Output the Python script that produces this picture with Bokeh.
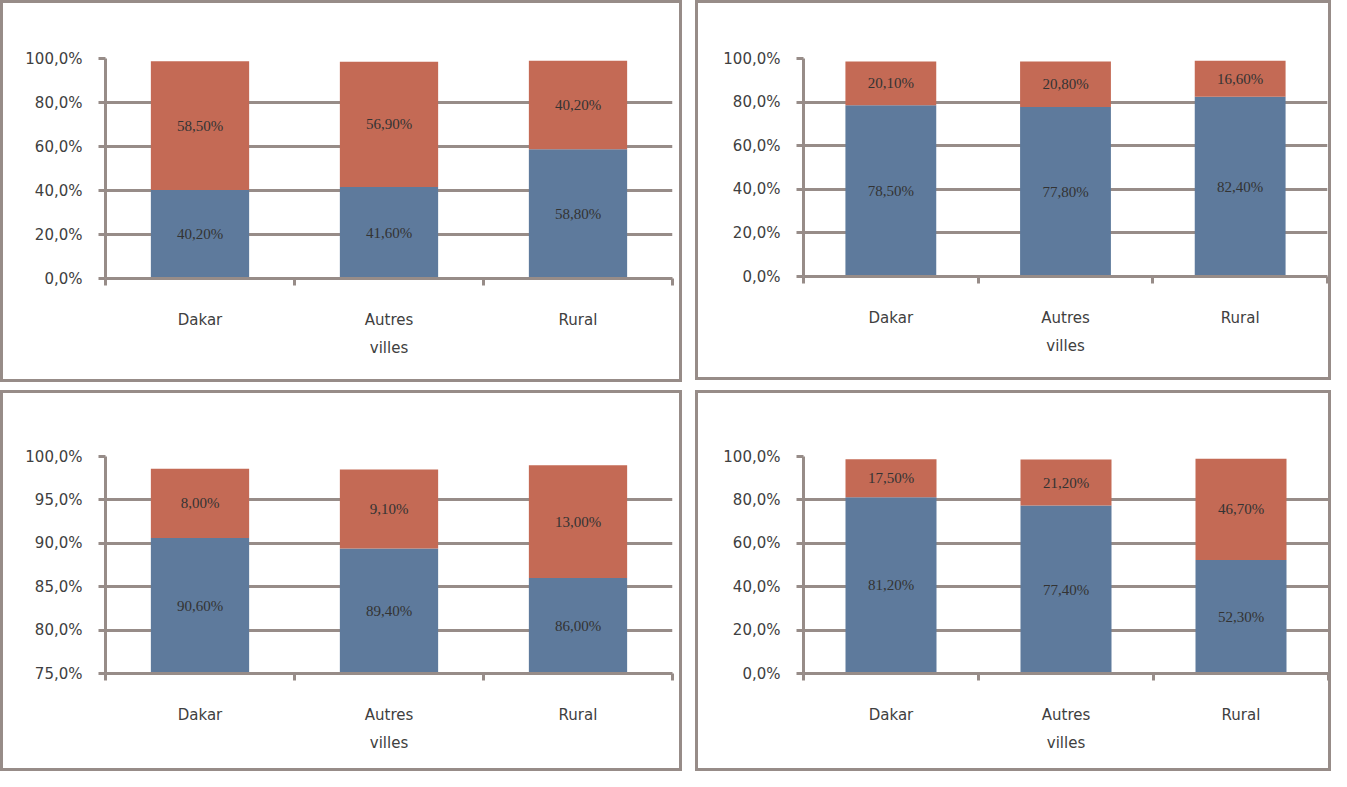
from bokeh.plotting import figure
from bokeh.models import (Range1d, FixedTicker, Legend, LegendItem, ColumnDataSource,
                          LabelSet, Label, Spacer, CustomJSTickFormatter)
from bokeh.layouts import column, row
from bokeh.embed import file_html
from bokeh.resources import INLINE

# ---------------- data ----------------
categories = ["Dakar", "Autres\nvilles", "Rural"]
series_names = ["Non", "Oui"]

prix_non = [40.2, 41.6, 58.8]
prix_oui = [58.5, 56.9, 40.2]
besoin_non = [78.5, 77.8, 82.4]
besoin_oui = [20.1, 20.8, 16.6]
util_non = [90.6, 89.4, 86.0]
util_oui = [8.0, 9.1, 13.0]
analph_non = [81.2, 77.4, 52.3]
analph_oui = [17.5, 21.2, 46.7]

titles = ["Prix élevé", "Pas besoin", "Utilisation compliquée", "Analphabète"]
y_ticks_full = [0, 20, 40, 60, 80, 100]
y_ticks_zoom = [75, 80, 85, 90, 95, 100]

# ---------------- style ----------------
NON_COLOR = "#5E7A9C"
OUI_COLOR = "#C46A55"
GRID = "#978C88"
TEXT = "#404040"
FONT = "DejaVu Sans"


def pct(v):
    return f"{v:.2f}%".replace(".", ",")


def make_panel(title, non, oui, yticks, w, h, mb, title_pos, legend_pos):
    n = len(categories)
    ymin, ymax = yticks[0], yticks[-1]
    xs = [i + 0.5 for i in range(n)]
    top_oui = [a + b for a, b in zip(non, oui)]
    non_y = [(max(0, ymin) + a) / 2 for a in non]
    oui_y = [(a + t) / 2 for a, t in zip(non, top_oui)]

    p = figure(width=w, height=h, x_range=Range1d(0, n), y_range=Range1d(ymin, ymax),
               output_backend="svg", toolbar_location=None,
               min_border_left=mb[0], min_border_right=mb[1],
               min_border_top=mb[2], min_border_bottom=mb[3])
    p.styles = {"border": f"3px solid {GRID}", "box-sizing": "border-box"}
    p.outline_line_color = None
    p.background_fill_color = "white"
    p.border_fill_color = "white"

    src = ColumnDataSource(dict(x=xs, non=non, top_oui=top_oui,
                                non_y=non_y, oui_y=oui_y,
                                non_lbl=[pct(v) for v in non],
                                oui_lbl=[pct(v) for v in oui]))
    r_non = p.vbar(x="x", bottom=0, top="non", width=0.52, fill_color=NON_COLOR,
                   line_color=None, source=src)
    r_oui = p.vbar(x="x", bottom="non", top="top_oui", width=0.52, fill_color=OUI_COLOR,
                   line_color=None, source=src)

    for ycol, tcol in (("non_y", "non_lbl"), ("oui_y", "oui_lbl")):
        p.add_layout(LabelSet(x="x", y=ycol, text=tcol, source=src,
                              text_align="center", text_baseline="middle",
                              text_font=FONT, text_font_size="15px",
                              text_color="#333333"))

    # grid
    p.xgrid.visible = False
    p.ygrid.ticker = FixedTicker(ticks=yticks)
    p.ygrid.grid_line_color = GRID
    p.ygrid.grid_line_width = 3

    # y axis
    ya = p.yaxis[0]
    ya.ticker = FixedTicker(ticks=yticks)
    ya.formatter = CustomJSTickFormatter(code="return tick.toFixed(1).replace('.', ',') + '%';")
    ya.axis_line_color = GRID
    ya.axis_line_width = 3
    ya.major_tick_line_color = GRID
    ya.major_tick_line_width = 3
    ya.major_tick_out = 7
    ya.major_tick_in = 0
    ya.minor_tick_line_color = None
    ya.major_label_standoff = 16
    ya.major_label_text_font = FONT
    ya.major_label_text_font_size = "15px"
    ya.major_label_text_color = TEXT

    # x axis
    xa = p.xaxis[0]
    xa.ticker = FixedTicker(ticks=xs, minor_ticks=list(range(n + 1)))
    xa.major_label_overrides = {x: c for x, c in zip(xs, categories)}
    xa.axis_line_color = GRID
    xa.axis_line_width = 3
    xa.major_tick_line_color = None
    xa.major_tick_out = 0
    xa.major_tick_in = 0
    xa.minor_tick_line_color = GRID
    xa.minor_tick_line_width = 3
    xa.minor_tick_out = 7
    xa.minor_tick_in = 0
    xa.major_label_standoff = 25
    xa.major_label_text_font = FONT
    xa.major_label_text_font_size = "15px"
    xa.major_label_text_color = TEXT
    xa.major_label_text_line_height = 1.6

    # title (placed relative to the frame)
    p.add_layout(Label(x=title_pos[0], y=title_pos[1], x_units="screen", y_units="screen",
                       text=title, text_align="center", text_baseline="middle",
                       text_font=FONT, text_font_style="bold", text_font_size="18px",
                       text_color="#3A3A3A"))

    legend = Legend(items=[LegendItem(label=series_names[0], renderers=[r_non]),
                           LegendItem(label=series_names[1], renderers=[r_oui])],
                    orientation="horizontal", location=legend_pos,
                    glyph_width=10, glyph_height=10, label_standoff=8, spacing=30,
                    padding=0, margin=0, border_line_color=None,
                    background_fill_alpha=0,
                    label_text_font=FONT, label_text_font_size="15px",
                    label_text_color=TEXT)
    p.add_layout(legend)
    return p


tl = make_panel(titles[0], prix_non, prix_oui, y_ticks_full, 682, 382,
                (102, 13, 55, 107), (239, 250), (378, -78))
tr = make_panel(titles[1], besoin_non, besoin_oui, y_ticks_full, 636, 380,
                (105, 7, 54, 107), (202, 252), (341, -80))
bl = make_panel(titles[2], util_non, util_oui, y_ticks_zoom, 682, 381,
                (102, 13, 63, 99), (228, 246), (378, -79))
br = make_panel(titles[3], analph_non, analph_oui, y_ticks_full, 636, 381,
                (105, 6, 59, 101), (211, 252), (342, -78))

page = column(row(tl, Spacer(width=13), tr, spacing=0),
              Spacer(height=8),
              row(bl, Spacer(width=13), br, spacing=0), spacing=0)

open("out.html", "w").write(file_html(page, INLINE))
